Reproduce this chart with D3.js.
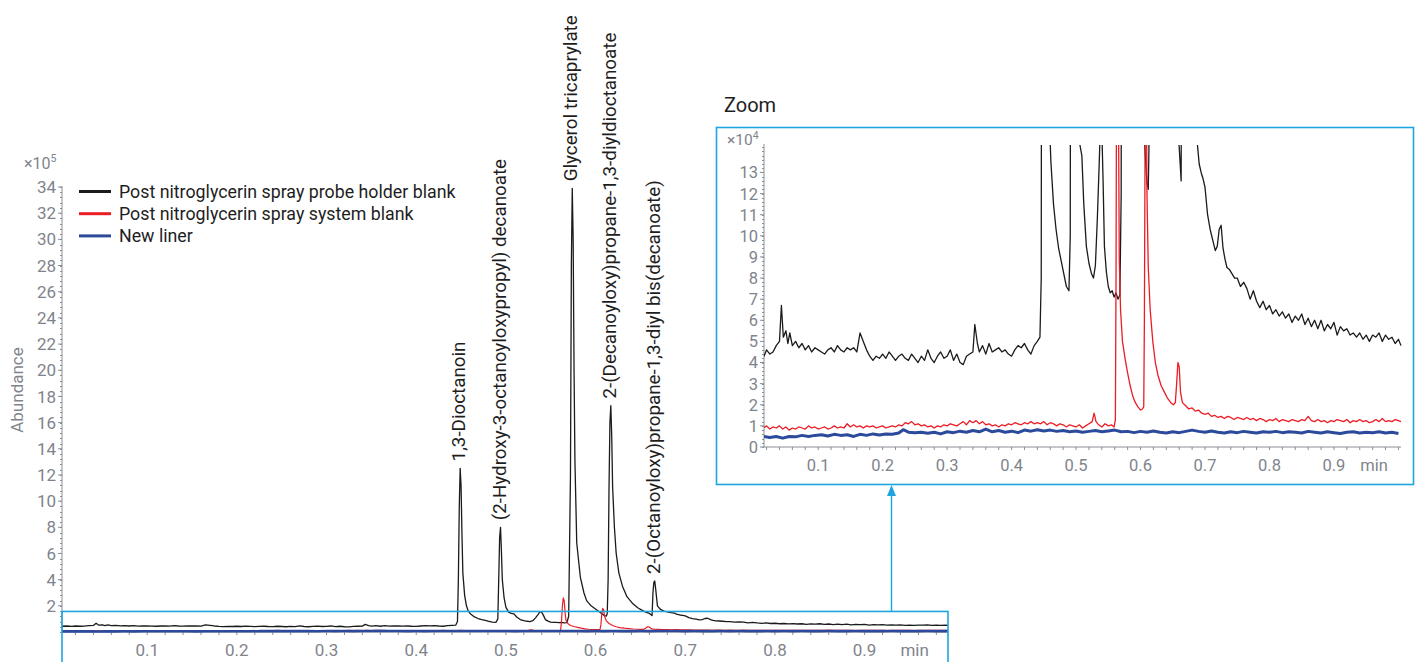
<!DOCTYPE html>
<html>
<head>
<meta charset="utf-8">
<script src="https://cdn.jsdelivr.net/npm/d3@7/dist/d3.min.js"></script>
<style>
  body { margin:0; background:#fff; }
  text { font-family: Roboto, "Noto Sans", sans-serif; }
</style>
</head>
<body>
<svg id="chart" width="1417" height="662"></svg>
<script>
var svgW = 1417,
    svgH = 662;

// abundance values in units of 10^4, time in min
var probeHolderBlank = [
  [0.005,4.4],[0.010,4.6],[0.016,4.3],[0.020,4.6],[0.025,4.4],[0.030,4.5],[0.035,4.8],[0.040,5.0],
  [0.043,6.7],[0.046,5.2],[0.050,5.5],[0.053,4.9],[0.056,5.4],[0.060,4.8],[0.065,5.0],[0.070,4.7],
  [0.075,4.9],[0.080,4.6],[0.085,4.8],[0.090,4.5],[0.095,4.7],[0.100,4.6],[0.105,4.5],[0.110,4.4],
  [0.115,4.6],[0.120,4.7],[0.125,4.5],[0.130,4.8],[0.135,4.6],[0.140,4.5],[0.145,4.7],[0.150,4.6],
  [0.155,4.7],[0.160,4.5],[0.165,5.4],[0.170,5.0],[0.175,4.6],[0.180,4.3],[0.185,4.1],[0.190,4.3],
  [0.195,4.2],[0.200,4.4],[0.205,4.2],[0.210,4.5],[0.215,4.3],[0.220,4.1],[0.225,4.3],[0.230,4.4],
  [0.235,4.2],[0.240,4.1],[0.245,4.4],[0.250,4.2],[0.255,4.0],[0.260,4.3],[0.265,4.1],[0.270,4.6],
  [0.275,4.2],[0.280,4.0],[0.285,4.3],[0.290,4.5],[0.295,4.2],[0.300,4.3],[0.305,4.6],[0.310,4.1],
  [0.315,4.4],[0.320,4.0],[0.325,3.9],[0.330,4.3],[0.335,4.4],[0.340,4.5],[0.343,5.8],[0.347,4.9],
  [0.350,4.5],[0.355,4.8],[0.360,4.4],[0.365,4.9],[0.370,4.5],[0.375,4.6],[0.380,4.7],[0.385,4.5],
  [0.390,4.6],[0.395,4.4],[0.400,4.3],[0.405,4.6],[0.410,4.8],[0.415,4.7],[0.420,4.9],[0.425,4.6],
  [0.430,4.4],[0.435,4.8],[0.440,5.0],[0.444,5.2],[0.446,8],[0.447,40],[0.448,95],[0.449,125],
  [0.450,112],[0.451,75],[0.452,45],[0.454,28],[0.456,20],[0.458,16],[0.461,13.5],[0.465,11.5],
  [0.469,10.3],[0.473,9.4],[0.477,8.8],[0.481,8.2],[0.485,7.6],[0.489,7.4],[0.491,10],[0.492,40],
  [0.493,72],[0.494,80],[0.495,62],[0.496,40],[0.498,26],[0.500,19],[0.503,15.2],[0.506,14.3],
  [0.509,13.8],[0.512,11.5],[0.516,9.5],[0.520,8.7],[0.524,8.2],[0.527,8.0],[0.530,8.6],[0.533,10.8],
  [0.536,13.5],[0.538,15.5],[0.540,15.0],[0.542,12.5],[0.544,9.5],[0.547,8.3],[0.550,7.6],[0.553,7.3],
  [0.556,7.4],[0.559,7.1],[0.562,7.3],[0.565,7.0],[0.568,7.2],[0.570,12],[0.572,120],[0.573,280],
  [0.574,339],[0.575,300],[0.576,200],[0.577,130],[0.579,68],[0.583,42],[0.587,30],[0.590,24],
  [0.595,20],[0.601,17],[0.606,14.5],[0.610,12.5],[0.612,12.2],[0.613,14],[0.614,40],[0.615,110],
  [0.616,160],[0.617,173],[0.618,150],[0.619,111],[0.621,80],[0.623,60],[0.626,45],[0.630,35],
  [0.635,27],[0.641,22],[0.647,18.5],[0.652,16.5],[0.656,15.2],[0.660,14.2],[0.663,12.6],[0.664,30],
  [0.665,38],[0.666,39],[0.667,33],[0.669,20],[0.672,17.5],[0.676,16],[0.680,15.3],[0.684,14.8],
  [0.688,14.4],[0.691,13.4],[0.694,13.0],[0.697,12.7],[0.700,12.3],[0.704,11.0],[0.708,10.3],[0.712,9.8],
  [0.716,9.3],[0.719,9.5],[0.722,10.3],[0.725,10.5],[0.728,9.4],[0.731,8.9],[0.734,8.5],[0.738,8.4],
  [0.742,8.2],[0.746,8.0],[0.750,8.0],[0.755,7.6],[0.760,7.8],[0.765,7.5],[0.770,7.0],[0.775,7.4],
  [0.780,6.9],[0.785,6.6],[0.790,6.9],[0.795,6.5],[0.800,6.7],[0.805,6.3],[0.810,6.5],[0.815,6.2],
  [0.820,6.4],[0.825,6.1],[0.830,6.3],[0.835,5.9],[0.840,6.2],[0.845,6.0],[0.850,6.3],[0.855,5.8],
  [0.860,6.1],[0.865,5.7],[0.870,6.0],[0.875,5.6],[0.880,6.0],[0.885,5.5],[0.890,5.8],[0.895,5.6],
  [0.900,5.9],[0.905,5.3],[0.910,5.7],[0.915,5.5],[0.920,5.6],[0.925,5.3],[0.930,5.4],[0.935,5.2],
  [0.940,5.4],[0.945,5.1],[0.950,5.3],[0.955,5.0],[0.960,5.3],[0.965,5.2],[0.970,5.4],[0.975,5.0],
  [0.980,5.3],[0.985,5.1],[0.990,5.2],[0.995,4.9],[1.000,5.1],[1.004,4.8]
];

var systemBlank = [
  [0.005,0.90],[0.010,1.00],[0.015,0.90],[0.020,1.00],[0.025,0.85],[0.030,0.95],[0.035,0.90],[0.040,1.00],
  [0.045,0.85],[0.050,0.95],[0.055,0.80],[0.060,0.90],[0.065,0.85],[0.070,0.95],[0.075,0.90],[0.080,0.85],
  [0.085,1.00],[0.090,0.90],[0.095,0.95],[0.100,0.85],[0.105,0.90],[0.110,0.95],[0.115,0.85],[0.120,0.90],
  [0.125,1.00],[0.130,0.90],[0.135,0.95],[0.140,0.90],[0.145,1.10],[0.150,0.95],[0.155,1.05],[0.160,0.95],
  [0.165,1.00],[0.170,0.90],[0.175,1.00],[0.180,0.95],[0.185,1.00],[0.190,0.90],[0.195,0.95],[0.200,1.00],
  [0.205,0.90],[0.210,0.95],[0.215,1.00],[0.220,0.95],[0.225,1.05],[0.230,1.00],[0.235,1.15],[0.240,1.10],
  [0.245,1.20],[0.250,1.05],[0.255,1.10],[0.260,1.00],[0.265,1.05],[0.270,0.95],[0.275,1.00],[0.280,0.90],
  [0.285,1.00],[0.290,0.95],[0.295,1.05],[0.300,1.00],[0.305,1.10],[0.310,1.05],[0.315,1.00],[0.320,1.10],
  [0.325,1.20],[0.330,1.05],[0.335,1.25],[0.340,1.15],[0.345,1.25],[0.350,1.10],[0.355,1.20],[0.360,1.05],
  [0.365,1.10],[0.370,1.00],[0.375,1.05],[0.380,0.95],[0.385,1.05],[0.390,1.00],[0.395,1.10],[0.400,1.05],
  [0.405,1.15],[0.410,1.10],[0.415,1.05],[0.420,1.15],[0.425,1.10],[0.430,1.20],[0.435,1.10],[0.440,1.15],
  [0.445,1.10],[0.450,1.20],[0.455,1.05],[0.460,1.15],[0.465,1.10],[0.470,1.00],[0.475,1.10],[0.480,1.05],
  [0.485,0.95],[0.490,1.05],[0.495,1.00],[0.500,0.95],[0.505,1.05],[0.510,0.90],[0.515,1.00],[0.520,1.10],
  [0.525,1.20],[0.528,1.60],[0.531,1.20],[0.535,1.05],[0.540,0.95],[0.545,1.10],[0.550,1.00],[0.555,1.05],
  [0.559,0.95],[0.561,1.30],[0.562,8],[0.563,20],[0.564,26],[0.565,24],[0.566,15],[0.567,9],
  [0.569,6.5],[0.572,5.0],[0.576,4.2],[0.580,3.5],[0.584,2.9],[0.588,2.4],[0.592,2.1],[0.596,1.9],
  [0.600,1.75],[0.603,1.80],[0.605,1.90],[0.606,6],[0.607,14],[0.608,18],[0.609,17],[0.610,12],
  [0.612,8.5],[0.615,6.5],[0.619,5.0],[0.623,4.0],[0.627,3.4],[0.632,2.9],[0.637,2.6],[0.642,2.3],
  [0.647,2.1],[0.651,2.0],[0.654,2.1],[0.656,3.0],[0.658,4.0],[0.660,3.8],[0.662,2.6],[0.665,2.1],
  [0.670,1.95],[0.675,1.80],[0.680,1.85],[0.685,1.70],[0.690,1.75],[0.695,1.60],[0.700,1.55],[0.705,1.60],
  [0.710,1.45],[0.715,1.50],[0.720,1.40],[0.725,1.45],[0.730,1.35],[0.735,1.45],[0.740,1.40],[0.745,1.30],
  [0.750,1.40],[0.755,1.35],[0.760,1.30],[0.765,1.40],[0.770,1.30],[0.775,1.35],[0.780,1.25],[0.785,1.35],
  [0.790,1.30],[0.795,1.20],[0.800,1.30],[0.805,1.25],[0.810,1.35],[0.815,1.20],[0.820,1.30],[0.825,1.25],
  [0.830,1.20],[0.835,1.30],[0.840,1.25],[0.845,1.20],[0.850,1.30],[0.855,1.25],[0.860,1.45],[0.865,1.25],
  [0.870,1.20],[0.875,1.30],[0.880,1.20],[0.885,1.25],[0.890,1.15],[0.895,1.25],[0.900,1.20],[0.905,1.30],
  [0.910,1.25],[0.915,1.20],[0.920,1.30],[0.925,1.15],[0.930,1.25],[0.935,1.20],[0.940,1.30],[0.945,1.20],
  [0.950,1.25],[0.955,1.15],[0.960,1.20],[0.965,1.30],[0.970,1.20],[0.975,1.35],[0.980,1.20],[0.985,1.25],
  [0.990,1.20],[0.995,1.30],[1.000,1.25],[1.004,1.20]
];

var newLiner = [
  [0.005,0.45],[0.015,0.50],[0.025,0.45],[0.035,0.50],[0.045,0.42],[0.055,0.50],[0.065,0.48],[0.075,0.55],
  [0.085,0.50],[0.095,0.55],[0.105,0.58],[0.115,0.52],[0.125,0.60],[0.135,0.55],[0.145,0.58],[0.155,0.50],
  [0.165,0.60],[0.175,0.55],[0.185,0.62],[0.195,0.57],[0.205,0.62],[0.215,0.60],[0.225,0.66],[0.232,0.82],
  [0.240,0.70],[0.250,0.68],[0.260,0.70],[0.270,0.65],[0.280,0.70],[0.290,0.62],[0.300,0.72],[0.310,0.68],
  [0.320,0.75],[0.330,0.70],[0.340,0.78],[0.350,0.72],[0.360,0.85],[0.370,0.72],[0.380,0.78],[0.390,0.70],
  [0.400,0.75],[0.410,0.68],[0.420,0.80],[0.430,0.75],[0.440,0.82],[0.450,0.76],[0.460,0.80],[0.470,0.74],
  [0.480,0.78],[0.490,0.72],[0.500,0.76],[0.510,0.70],[0.520,0.74],[0.530,0.78],[0.540,0.72],[0.550,0.76],
  [0.560,0.80],[0.570,0.72],[0.580,0.74],[0.590,0.68],[0.600,0.74],[0.610,0.70],[0.620,0.76],[0.630,0.70],
  [0.640,0.66],[0.650,0.72],[0.660,0.68],[0.670,0.74],[0.680,0.80],[0.690,0.74],[0.700,0.70],[0.710,0.76],
  [0.720,0.70],[0.730,0.66],[0.740,0.72],[0.750,0.68],[0.760,0.74],[0.770,0.70],[0.780,0.66],[0.790,0.72],
  [0.800,0.70],[0.810,0.74],[0.820,0.68],[0.830,0.72],[0.840,0.70],[0.850,0.66],[0.860,0.74],[0.870,0.70],
  [0.880,0.66],[0.890,0.72],[0.900,0.68],[0.910,0.64],[0.920,0.70],[0.930,0.72],[0.940,0.66],[0.950,0.70],
  [0.960,0.68],[0.970,0.72],[0.980,0.66],[0.990,0.70],[1.000,0.64]
];

var seriesNames = ['Post nitroglycerin spray probe holder blank', 'Post nitroglycerin spray system blank', 'New liner'];
var seriesColors = ['#1b1b1b', '#ec1c24', '#2c4a9c'];

var peakTimes = [0.449, 0.494, 0.574, 0.617, 0.666];
var peakLabels = ['1,3-Dioctanoin', '(2-Hydroxy-3-octanoyloxypropyl) decanoate', 'Glycerol tricaprylate',
                  '2-(Decanoyloxy)propane-1,3-diyldioctanoate', '2-(Octanoyloxy)propane-1,3-diyl bis(decanoate)'];

var xTickValues = [0.1, 0.2, 0.3, 0.4, 0.5, 0.6, 0.7, 0.8, 0.9];
var mainYTicks = [2, 4, 6, 8, 10, 12, 14, 16, 18, 20, 22, 24, 26, 28, 30, 32, 34];   // x10^5
var zoomYTicks = [0, 1, 2, 3, 4, 5, 6, 7, 8, 9, 10, 11, 12, 13];                   // x10^4

var axisGrey = '#8a8e96',
    labelGrey = '#7f848c',
    boxBlue = '#1da5e0';

var svg = d3.select('#chart');

// ---------- main chromatogram ----------
var xMain = d3.scaleLinear().domain([0.005, 0.993]).range([62, 948]);
var yMain = d3.scaleLinear().domain([0, 340]).range([632, 187]);   // 10^4 units, 34 x10^5 on top

svg.append('clipPath').attr('id', 'clipMain')
  .append('rect').attr('x', 62).attr('y', 150).attr('width', 886).attr('height', 486);

function drawAxes(g, x, y, yTicks, yMinorStep, yFmt, fontSize) {
  var x0 = x.range()[0], x1 = x.range()[1], y0 = y.range()[0], y1 = y.range()[1];
  var dom = y.domain();

  // y axis line + minor ticks
  g.append('line').attr('x1', x0).attr('x2', x0).attr('y1', y0).attr('y2', y1 - 1)
    .attr('stroke', axisGrey).attr('stroke-width', 1);
  var minor = d3.range(0, dom[1] + 1e-9, yMinorStep);
  g.selectAll('.ymin').data(minor).enter().append('line')
    .attr('x1', x0 - 2).attr('x2', x0)
    .attr('y1', function(d){ return Math.round(y(d)) + 0.5; })
    .attr('y2', function(d){ return Math.round(y(d)) + 0.5; })
    .attr('stroke', axisGrey).attr('stroke-width', 1);
  g.selectAll('.ymaj').data(yTicks).enter().append('line')
    .attr('x1', x0 - 4).attr('x2', x0)
    .attr('y1', function(d){ return y(d); })
    .attr('y2', function(d){ return y(d); })
    .attr('stroke', axisGrey).attr('stroke-width', 1);
  g.selectAll('.ylab').data(yTicks).enter().append('text')
    .attr('x', x0 - 6)
    .attr('y', function(d){ return y(d); })
    .attr('dy', '0.36em')
    .attr('text-anchor', 'end')
    .attr('font-size', fontSize)
    .attr('fill', labelGrey)
    .text(yFmt);

  // x axis
  g.append('line').attr('x1', x0).attr('x2', x1).attr('y1', y0).attr('y2', y0)
    .attr('stroke', axisGrey).attr('stroke-width', 1);
  var xd = x.domain();
  var xMinor = d3.range(0.02, xd[1], 0.02);
  g.selectAll('.xmin').data(xMinor).enter().append('line')
    .attr('x1', function(d){ return x(d); }).attr('x2', function(d){ return x(d); })
    .attr('y1', y0).attr('y2', y0 + 3)
    .attr('stroke', axisGrey).attr('stroke-width', 1);
  g.selectAll('.xlab').data(xTickValues).enter().append('text')
    .attr('x', function(d){ return x(d); })
    .attr('y', y0 + 24)
    .attr('text-anchor', 'middle')
    .attr('font-size', fontSize)
    .attr('fill', labelGrey)
    .text(function(d){ return d3.format('.1f')(d); });
  g.append('text')
    .attr('x', x(0.9) + (x1 - x(0.9)) * 0.6)
    .attr('y', y0 + 24)
    .attr('text-anchor', 'middle')
    .attr('font-size', fontSize)
    .attr('fill', labelGrey)
    .text('min');
}

var gMain = svg.append('g');
drawAxes(gMain, xMain, yMain, mainYTicks.map(function(d){ return d * 10; }), 4,
         function(d){ return d / 10; }, 17);

// multiplier label
var mult = gMain.append('text').attr('x', 24).attr('y', 169).attr('font-size', 16).attr('fill', labelGrey);
mult.append('tspan').text('×10');
mult.append('tspan').attr('dy', -7).attr('font-size', 10.5).text('5');

gMain.append('text')
  .attr('transform', 'translate(23,390) rotate(-90)')
  .attr('text-anchor', 'middle')
  .attr('font-size', 17)
  .attr('fill', labelGrey)
  .text('Abundance');

var seriesData = [probeHolderBlank, systemBlank, newLiner];
var seriesWidth = [1.3, 1.2, 2.6];

var lineMain = d3.line()
  .x(function(d){ return xMain(d[0]); })
  .y(function(d){ return yMain(d[1]); });

var traces = gMain.append('g').attr('clip-path', 'url(#clipMain)');
seriesData.forEach(function(s, i){
  traces.append('path')
    .attr('d', lineMain(s))
    .attr('fill', 'none')
    .attr('stroke', seriesColors[i])
    .attr('stroke-width', seriesWidth[i])
    .attr('stroke-linejoin', 'round');
});

// compound labels above the peaks
peakTimes.forEach(function(t, i){
  var top = d3.max(probeHolderBlank.filter(function(d){ return Math.abs(d[0] - t) < 0.004; }),
                   function(d){ return d[1]; });
  var px = xMain(t) + 5, py = yMain(top) - 7;
  gMain.append('text')
    .attr('transform', 'translate(' + px + ',' + py + ') rotate(-90)')
    .attr('font-size', 18.8)
    .attr('fill', '#1e1e1e')
    .text(peakLabels[i]);
});

// legend
var legend = gMain.append('g');
seriesNames.forEach(function(n, i){
  var ly = 191.5 + i * 22.2;
  legend.append('line').attr('x1', 79).attr('x2', 111).attr('y1', ly).attr('y2', ly)
    .attr('stroke', seriesColors[i]).attr('stroke-width', 3);
  legend.append('text').attr('x', 119).attr('y', ly).attr('dy', '0.35em')
    .attr('font-size', 17.8).attr('fill', '#1e1e1e').text(n);
});

// zoom window on the main plot + arrow
var zoomWinTop = 15.7;
svg.append('rect')
  .attr('x', xMain.range()[0]).attr('y', yMain(zoomWinTop))
  .attr('width', xMain.range()[1] - xMain.range()[0]).attr('height', svgH - yMain(zoomWinTop) + 5)
  .attr('fill', 'none').attr('stroke', boxBlue).attr('stroke-width', 1.6);

var arrowX = xMain(0.93);
svg.append('line').attr('x1', arrowX).attr('x2', arrowX)
  .attr('y1', yMain(zoomWinTop)).attr('y2', 494)
  .attr('stroke', boxBlue).attr('stroke-width', 1.4);
svg.append('path')
  .attr('d', 'M' + arrowX + ',485 L' + (arrowX - 4.5) + ',496 L' + (arrowX + 4.5) + ',496 Z')
  .attr('fill', boxBlue);

// ---------- zoom inset ----------
var xZoom = d3.scaleLinear().domain([0.016, 1.004]).range([764, 1401]);
var yZoom = d3.scaleLinear().domain([0, 14.3]).range([447, 145]);

svg.append('text').attr('x', 724).attr('y', 112).attr('font-size', 20).attr('fill', '#1e1e1e').text('Zoom');
svg.append('rect').attr('x', 716.5).attr('y', 127.5).attr('width', 697).attr('height', 357)
  .attr('fill', 'none').attr('stroke', boxBlue).attr('stroke-width', 1.6);

svg.append('clipPath').attr('id', 'clipZoom')
  .append('rect').attr('x', 764).attr('y', 145).attr('width', 638).attr('height', 304);

var gZoom = svg.append('g');
drawAxes(gZoom, xZoom, yZoom, zoomYTicks, 0.2, function(d){ return d; }, 16.5);

var mult2 = gZoom.append('text').attr('x', 727).attr('y', 145).attr('font-size', 15.5).attr('fill', labelGrey);
mult2.append('tspan').text('×10');
mult2.append('tspan').attr('dy', -6).attr('font-size', 10.5).text('4');

var lineZoom = d3.line()
  .x(function(d){ return xZoom(d[0]); })
  .y(function(d){ return yZoom(d[1]); });

var tracesZoom = gZoom.append('g').attr('clip-path', 'url(#clipZoom)');
seriesData.forEach(function(s, i){
  tracesZoom.append('path')
    .attr('d', lineZoom(s))
    .attr('fill', 'none')
    .attr('stroke', seriesColors[i])
    .attr('stroke-width', i == 2 ? 3 : 1.3)
    .attr('stroke-linejoin', 'round');
});
</script>
</body>
</html>
